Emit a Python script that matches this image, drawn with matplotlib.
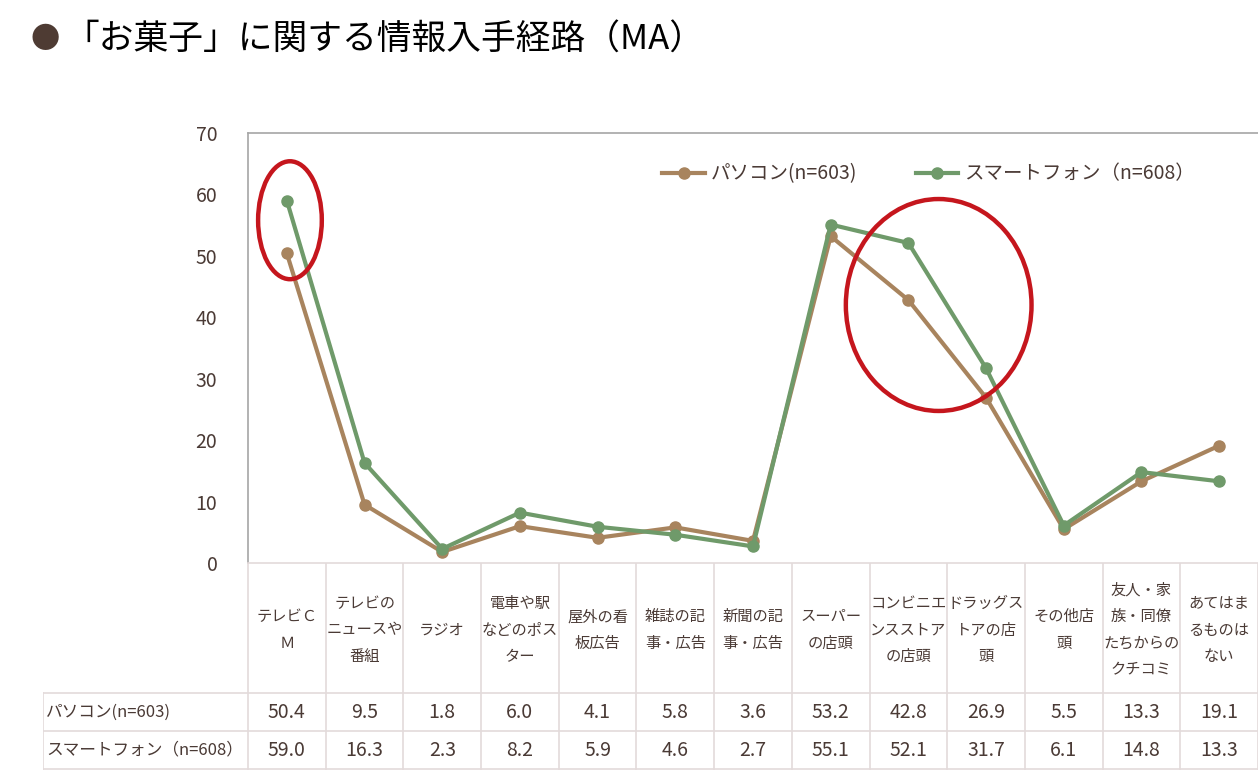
import numpy as np
import matplotlib.pyplot as plt
from matplotlib.patches import Ellipse

plt.rcParams['font.family'] = ['Noto Sans CJK JP', 'DejaVu Sans']

# data ------------------------------------------------------------------------
categories = ["テレビＣ\nＭ", "テレビの\nニュースや\n番組", "ラジオ", "電車や駅\nなどのポス\nター",
              "屋外の看\n板広告", "雑誌の記\n事・広告", "新聞の記\n事・広告", "スーパー\nの店頭",
              "コンビニエ\nンスストア\nの店頭", "ドラッグス\nトアの店\n頭", "その他店\n頭",
              "友人・家\n族・同僚\nたちからの\nクチコミ", "あてはま\nるものは\nない"]
pc = [50.4, 9.5, 1.8, 6.0, 4.1, 5.8, 3.6, 53.2, 42.8, 26.9, 5.5, 13.3, 19.1]
sp = [59.0, 16.3, 2.3, 8.2, 5.9, 4.6, 2.7, 55.1, 52.1, 31.7, 6.1, 14.8, 13.3]
series_names = ["パソコン(n=603)", "スマートフォン（n=608）"]
yticks = [0, 10, 20, 30, 40, 50, 60, 70]

brown = "#A8845E"
green = "#6F9A6A"
txt = "#4A3A35"
grid_c = "#E3DADA"

W, H = 1258, 772
fig = plt.figure(figsize=(W / 100, H / 100), dpi=100)

# title
fig.text(30 / W, 1 - 40 / H, "●", color="#4E3B33", fontsize=21, va="center", ha="left")
fig.text(64 / W, 1 - 40 / H, "「お菓子」に関する情報入手経路（MA）", color="black",
         fontsize=25, va="center", ha="left")

# main chart ------------------------------------------------------------------
L, R, T, B = 248, 1258, 133, 563
ax = fig.add_axes([L / W, 1 - B / H, (R - L) / W, (B - T) / H])
n = len(categories)
x = np.arange(n)
ax.plot(x, pc, color=brown, lw=3, marker="o", ms=8, label=series_names[0], zorder=3)
ax.plot(x, sp, color=green, lw=3, marker="o", ms=8, label=series_names[1], zorder=3)
ax.set_xlim(-0.5, n - 0.5)
ax.set_ylim(0, 70)
ax.set_yticks(yticks)
ax.set_yticklabels([str(v) for v in yticks], fontsize=14, color=txt)
ax.set_xticks([])
ax.tick_params(axis="y", length=0, pad=22)
for s in ["left", "top"]:
    ax.spines[s].set_color("#A6A6A6")
    ax.spines[s].set_linewidth(1.2)
ax.spines["right"].set_visible(False)
ax.spines["bottom"].set_color(grid_c)
ax.spines["bottom"].set_linewidth(1.2)

leg = ax.legend(loc="upper right", bbox_to_anchor=(0.955, 0.97), ncol=2, frameon=False,
                fontsize=14, handlelength=2.2, columnspacing=3.0, handletextpad=0.3)
for t in leg.get_texts():
    t.set_color(txt)

# red circles
ax.add_patch(Ellipse((0.04, 55.8), 0.82, 19.2, fill=False, ec="#C5161D", lw=3.2, zorder=4))
ax.add_patch(Ellipse((8.39, 42.0), 2.39, 34.5, fill=False, ec="#C5161D", lw=3.2, zorder=4))

# data table ------------------------------------------------------------------
TL, TB = 43, 770
cw = (R - L) / n
tax = fig.add_axes([TL / W, 1 - TB / H, (R - TL) / W, (TB - B) / H])
tax.set_xlim(TL, R)
tax.set_ylim(TB, B)
tax.axis("off")
rows = [B, 693, 731, 769]
for i in range(n + 1):
    xx = L + i * cw
    tax.plot([xx, xx], [B, rows[-1]], color=grid_c, lw=1.2)
tax.plot([TL, TL], [rows[1], rows[-1]], color=grid_c, lw=1.2)
for yy in rows[1:]:
    tax.plot([TL, R], [yy, yy], color=grid_c, lw=1.2)

for i, c in enumerate(categories):
    tax.text(L + (i + 0.5) * cw, (B + rows[1]) / 2 + 2, c, ha="center", va="center",
             fontsize=11, color=txt, linespacing=1.75)
for r, (name, vals) in enumerate(zip(series_names, [pc, sp])):
    yc = (rows[r + 1] + rows[r + 2]) / 2
    tax.text(TL + 3, yc, name, ha="left", va="center", fontsize=12, color=txt)
    for i, v in enumerate(vals):
        tax.text(L + (i + 0.5) * cw, yc, f"{v:.1f}", ha="center", va="center",
                 fontsize=14, color=txt)

fig.savefig("out.png", dpi=100)
